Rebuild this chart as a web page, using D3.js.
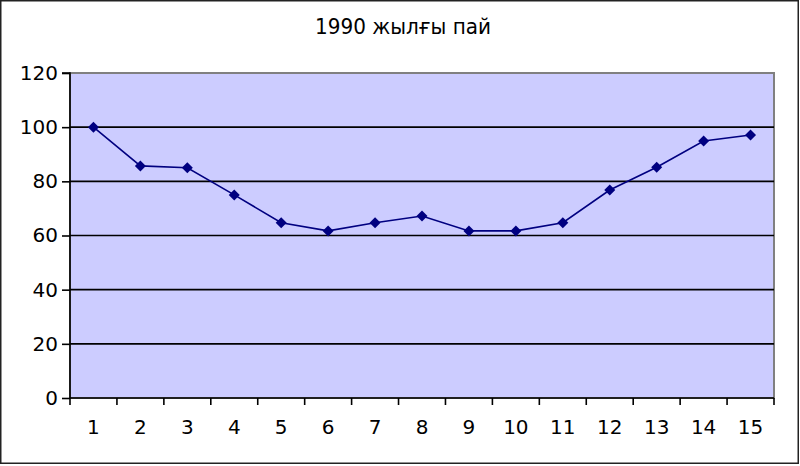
<!DOCTYPE html>
<html><head><meta charset="utf-8">
<script src="https://cdn.jsdelivr.net/npm/d3@7"></script>
<style>body{margin:0;background:#fff}svg{display:block;font-family:"DejaVu Sans",sans-serif}</style>
</head><body>
<svg id="c" width="800" height="466"></svg>
<script>
const title = "1990 жылғы пай";
const categories = ["1","2","3","4","5","6","7","8","9","10","11","12","13","14","15"];
const values = [100, 85.7, 85, 75, 64.7, 61.7, 64.7, 67.2, 61.7, 61.7, 64.7, 76.8, 85.2, 94.9, 97.1];
const yTicks = [0, 20, 40, 60, 80, 100, 120];

const svg = d3.select("#c");
const m = {left: 70, right: 774, top: 73, bottom: 398};

svg.append("rect").attr("x", 0.75).attr("y", 0.75).attr("width", 797.5).attr("height", 462.5)
  .attr("fill", "#fff").attr("stroke", "#222").attr("stroke-width", 1.5);

svg.append("text").attr("transform", "translate(403,34) scale(1,1.08)").attr("text-anchor", "middle")
  .attr("font-size", 20).attr("fill", "#000").text(title);

const x = d3.scaleBand().domain(categories).range([m.left, m.right]);
const y = d3.scaleLinear().domain([0, 120]).range([m.bottom, m.top]);

svg.append("rect").attr("x", m.left).attr("y", m.top).attr("width", m.right - m.left).attr("height", m.bottom - m.top)
  .attr("fill", "#CCCCFF").attr("stroke", "#808080").attr("stroke-width", 2);

// gridlines
svg.append("g").selectAll("line").data(yTicks.filter(d => d > 0 && d < 120)).join("line")
  .attr("x1", m.left).attr("x2", m.right).attr("y1", d => y(d)).attr("y2", d => y(d))
  .attr("stroke", "#000").attr("stroke-width", 1.6);

// y axis
const ya = svg.append("g").attr("transform", `translate(${m.left},0)`)
  .call(d3.axisLeft(y).tickValues(yTicks).tickSize(8).tickPadding(4));
ya.select(".domain").attr("stroke", "#000").attr("stroke-width", 1.6).attr("d", `M-8,${m.top}H0V${m.bottom}`);
ya.selectAll(".tick line").attr("stroke", "#000").attr("stroke-width", 1.6);
ya.selectAll(".tick text").attr("font-size", 20).attr("font-family", "DejaVu Sans").attr("fill", "#000");

// x axis
const xa = svg.append("g").attr("transform", `translate(0,${m.bottom})`)
  .call(d3.axisBottom(x).tickSize(0).tickPadding(22));
xa.select(".domain").attr("stroke", "#000").attr("stroke-width", 1.6).attr("d", `M${m.left},0H${m.right}`);
xa.selectAll(".tick text").attr("font-size", 20).attr("font-family", "DejaVu Sans").attr("fill", "#000");
const bounds = categories.map(c => x(c)).concat([x(categories[categories.length-1]) + x.bandwidth()]);
xa.append("g").selectAll("line").data(bounds).join("line")
  .attr("x1", d => d).attr("x2", d => d).attr("y1", 0).attr("y2", 7)
  .attr("stroke", "#000").attr("stroke-width", 1.6);

// line
const cx = c => x(c) + x.bandwidth() / 2;
svg.append("path").datum(values)
  .attr("d", d3.line().x((d, i) => cx(categories[i])).y(d => y(d)))
  .attr("fill", "none").attr("stroke", "#000080").attr("stroke-width", 1.6);

svg.append("g").selectAll("path").data(values).join("path")
  .attr("transform", (d, i) => `translate(${cx(categories[i])},${y(d)})`)
  .attr("d", "M0,-5.5L5.5,0L0,5.5L-5.5,0Z")
  .attr("fill", "#000080");
</script>
</body></html>
